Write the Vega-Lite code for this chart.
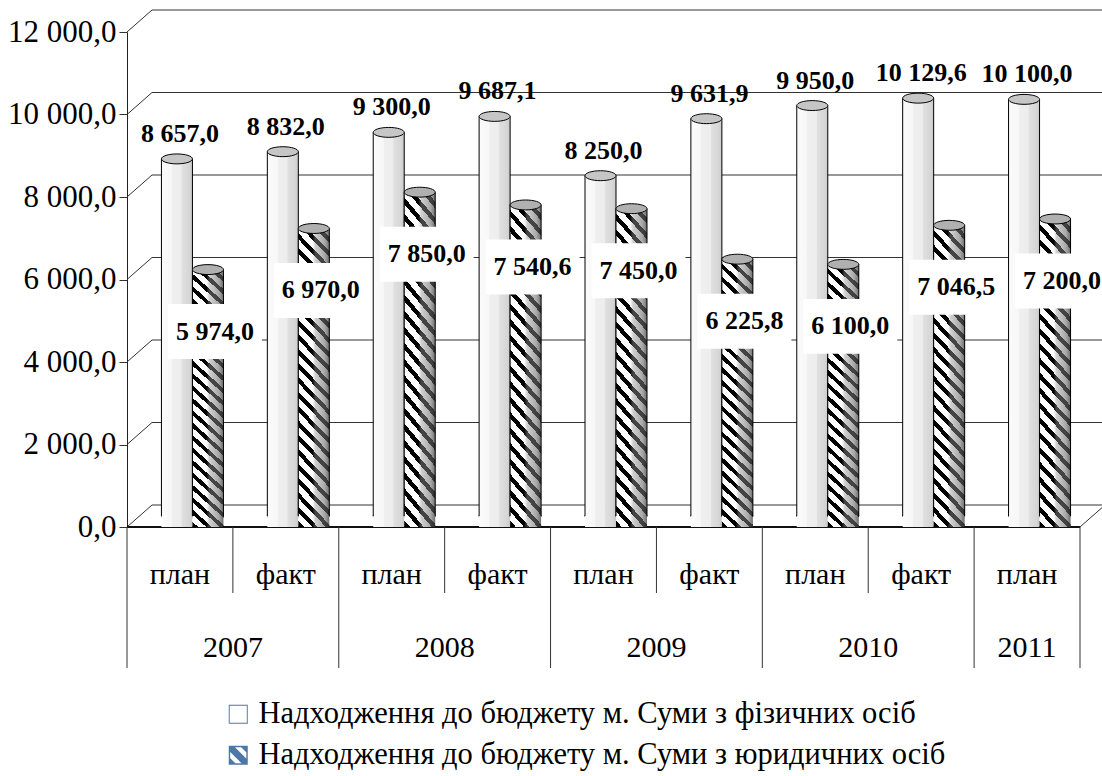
{
  "$schema": "https://vega.github.io/schema/vega-lite/v6.json",
  "width": 953,
  "height": 495,
  "autosize": {"type": "none"},
  "padding": {"left": 127, "top": 32, "right": 22, "bottom": 249},
  "background": "#ffffff",
  "config": {
    "font": "serif",
    "view": {"stroke": null},
    "locale": {"number": {"decimal": ",", "thousands": " ", "grouping": [3], "currency": ["", ""]}},
    "axisY": {"grid": false, "format": ",.1f", "tickCount": 7, "domainColor": "#222222", "domainWidth": 1, "tickColor": "#333333", "tickSize": 8,
              "labelFont": "serif", "labelFontSize": 31, "labelColor": "#000000", "labelPadding": 3, "title": null}
  },
  "datasets": {
    "ticks": [{"v": 0}, {"v": 2000}, {"v": 4000}, {"v": 6000}, {"v": 8000}, {"v": 10000}, {"v": 12000}]
  },
  "data": {
    "values": [
      {"cat": "2007 план", "year": "2007", "kind": "план", "s": "fiz", "series": "Надходження до бюджету м. Суми з фізичних осіб", "value": 8657.0},
      {"cat": "2007 факт", "year": "2007", "kind": "факт", "s": "fiz", "series": "Надходження до бюджету м. Суми з фізичних осіб", "value": 8832.0},
      {"cat": "2008 план", "year": "2008", "kind": "план", "s": "fiz", "series": "Надходження до бюджету м. Суми з фізичних осіб", "value": 9300.0},
      {"cat": "2008 факт", "year": "2008", "kind": "факт", "s": "fiz", "series": "Надходження до бюджету м. Суми з фізичних осіб", "value": 9687.1},
      {"cat": "2009 план", "year": "2009", "kind": "план", "s": "fiz", "series": "Надходження до бюджету м. Суми з фізичних осіб", "value": 8250.0},
      {"cat": "2009 факт", "year": "2009", "kind": "факт", "s": "fiz", "series": "Надходження до бюджету м. Суми з фізичних осіб", "value": 9631.9},
      {"cat": "2010 план", "year": "2010", "kind": "план", "s": "fiz", "series": "Надходження до бюджету м. Суми з фізичних осіб", "value": 9950.0},
      {"cat": "2010 факт", "year": "2010", "kind": "факт", "s": "fiz", "series": "Надходження до бюджету м. Суми з фізичних осіб", "value": 10129.6},
      {"cat": "2011 план", "year": "2011", "kind": "план", "s": "fiz", "series": "Надходження до бюджету м. Суми з фізичних осіб", "value": 10100.0},
      {"cat": "2007 план", "year": "2007", "kind": "план", "s": "yur", "series": "Надходження до бюджету м. Суми з юридичних осіб", "value": 5974.0},
      {"cat": "2007 факт", "year": "2007", "kind": "факт", "s": "yur", "series": "Надходження до бюджету м. Суми з юридичних осіб", "value": 6970.0},
      {"cat": "2008 план", "year": "2008", "kind": "план", "s": "yur", "series": "Надходження до бюджету м. Суми з юридичних осіб", "value": 7850.0},
      {"cat": "2008 факт", "year": "2008", "kind": "факт", "s": "yur", "series": "Надходження до бюджету м. Суми з юридичних осіб", "value": 7540.6},
      {"cat": "2009 план", "year": "2009", "kind": "план", "s": "yur", "series": "Надходження до бюджету м. Суми з юридичних осіб", "value": 7450.0},
      {"cat": "2009 факт", "year": "2009", "kind": "факт", "s": "yur", "series": "Надходження до бюджету м. Суми з юридичних осіб", "value": 6225.8},
      {"cat": "2010 план", "year": "2010", "kind": "план", "s": "yur", "series": "Надходження до бюджету м. Суми з юридичних осіб", "value": 6100.0},
      {"cat": "2010 факт", "year": "2010", "kind": "факт", "s": "yur", "series": "Надходження до бюджету м. Суми з юридичних осіб", "value": 7046.5},
      {"cat": "2011 план", "year": "2011", "kind": "план", "s": "yur", "series": "Надходження до бюджету м. Суми з юридичних осіб", "value": 7200.0}
    ]
  },
  "layer": [
    {
      "data": {"name": "ticks"},
      "mark": {"type": "rule", "color": "#333333", "strokeWidth": 1, "xOffset": 25, "x2Offset": 25, "yOffset": -22, "y2Offset": -22},
      "encoding": {
        "x": {"datum": "2007 план", "type": "nominal", "bandPosition": 0, "axis": null,
              "scale": {"domain": ["2007 план", "2007 факт", "2008 план", "2008 факт", "2009 план", "2009 факт", "2010 план", "2010 факт", "2011 план"], "paddingInner": 0, "paddingOuter": 0}},
        "x2": {"datum": "2011 план", "bandPosition": 1},
        "y": {"field": "v", "type": "quantitative", "title": null, "scale": {"domain": [0, 12000], "nice": false, "zero": true}},
        "y2": {"field": "v"}
      }
    },
    {
      "data": {"name": "ticks"},
      "mark": {"type": "rule", "color": "#333333", "strokeWidth": 1, "x2Offset": 25, "y2Offset": -22},
      "encoding": {
        "x": {"datum": "2007 план", "type": "nominal", "bandPosition": 0, "axis": null},
        "x2": {"datum": "2007 план", "bandPosition": 0},
        "y": {"field": "v", "type": "quantitative", "title": null},
        "y2": {"field": "v"}
      }
    },
    {
      "mark": {"type": "rule", "color": "#111111", "strokeWidth": 1},
      "encoding": {"y": {"datum": 0, "type": "quantitative", "title": null}}
    },
    {
      "transform": [{"filter": "datum.s == 'fiz' && datum.kind == 'факт'"}],
      "mark": {"type": "rule", "color": "#333333", "strokeWidth": 1, "y2Offset": 66},
      "encoding": {
        "x": {"field": "cat", "type": "nominal", "bandPosition": 0, "axis": null},
        "y": {"datum": 0, "type": "quantitative", "title": null},
        "y2": {"datum": 0}
      }
    },
    {
      "transform": [{"filter": "datum.s == 'fiz' && datum.kind == 'план'"}],
      "mark": {"type": "rule", "color": "#333333", "strokeWidth": 1, "y2Offset": 141},
      "encoding": {
        "x": {"field": "cat", "type": "nominal", "bandPosition": 0, "axis": null},
        "y": {"datum": 0, "type": "quantitative", "title": null},
        "y2": {"datum": 0}
      }
    },
    {
      "transform": [{"filter": "datum.s == 'fiz' && datum.cat == '2011 план'"}],
      "mark": {"type": "rule", "color": "#333333", "strokeWidth": 1, "y2Offset": 141},
      "encoding": {
        "x": {"field": "cat", "type": "nominal", "bandPosition": 1, "axis": null},
        "y": {"datum": 0, "type": "quantitative", "title": null},
        "y2": {"datum": 0}
      }
    },
    {
      "transform": [{"filter": "datum.s == 'fiz' && datum.cat == '2011 план'"}],
      "mark": {"type": "rule", "color": "#333333", "strokeWidth": 1, "x2Offset": 25, "y2Offset": -22},
      "encoding": {
        "x": {"field": "cat", "type": "nominal", "bandPosition": 1, "axis": null},
        "x2": {"field": "cat", "bandPosition": 1},
        "y": {"datum": 0, "type": "quantitative", "title": null},
        "y2": {"datum": 0}
      }
    },
    {
      "transform": [{"filter": "datum.s == 'fiz'"}],
      "mark": {"type": "text", "fontSize": 30, "font": "serif", "color": "#000000", "baseline": "middle", "yOffset": 48},
      "encoding": {
        "x": {"field": "cat", "type": "nominal", "axis": null},
        "y": {"datum": 0, "type": "quantitative", "title": null},
        "text": {"field": "kind"}
      }
    },
    {
      "transform": [{"filter": "datum.s == 'fiz' && datum.kind == 'факт'"}],
      "mark": {"type": "text", "fontSize": 30, "font": "serif", "color": "#000000", "baseline": "middle", "yOffset": 121},
      "encoding": {
        "x": {"field": "cat", "type": "nominal", "bandPosition": 0, "axis": null},
        "y": {"datum": 0, "type": "quantitative", "title": null},
        "text": {"field": "year"}
      }
    },
    {
      "transform": [{"filter": "datum.s == 'fiz' && datum.year == '2011'"}],
      "mark": {"type": "text", "fontSize": 30, "font": "serif", "color": "#000000", "baseline": "middle", "yOffset": 121},
      "encoding": {
        "x": {"field": "cat", "type": "nominal", "axis": null},
        "y": {"datum": 0, "type": "quantitative", "title": null},
        "text": {"field": "year"}
      }
    },
    {
      "transform": [{"filter": "datum.s == 'fiz'"}],
      "mark": {"type": "point", "shape": "M -1 0 A 1 0.32 0 1 0 1 0 A 1 0.32 0 1 0 -1 0 Z", "size": 961, "filled": true, "fill": "#e4e4e4", "stroke": "#000000", "strokeWidth": 1, "opacity": 1, "xOffset": -3, "yOffset": -11},
      "encoding": {
        "x": {"field": "cat", "type": "nominal", "axis": null},
        "y": {"datum": 0, "type": "quantitative", "title": null}
      }
    },
    {
      "transform": [{"filter": "datum.s == 'fiz'"}],
      "mark": {"type": "bar", "width": 31, "xOffset": -3, "yOffset": -11, "y2Offset": -11,
               "fill": {"gradient": "linear", "x1": 0, "y1": 0, "x2": 1, "y2": 0,
                        "stops": [{"offset": 0, "color": "#fbfbfb"}, {"offset": 0.33, "color": "#f7f7f7"}, {"offset": 0.34, "color": "#efefef"}, {"offset": 0.64, "color": "#ededed"}, {"offset": 0.66, "color": "#e0e0e0"}, {"offset": 0.9, "color": "#d6d6d6"}, {"offset": 1, "color": "#c8c8c8"}]}},
      "encoding": {
        "x": {"field": "cat", "type": "nominal", "axis": null},
        "y": {"field": "value", "type": "quantitative", "title": null, "stack": null}
      }
    },
    {
      "transform": [{"filter": "datum.s == 'fiz'"}],
      "mark": {"type": "rule", "color": "#000000", "strokeWidth": 1, "xOffset": -18.5, "yOffset": -11, "y2Offset": -11},
      "encoding": {
        "x": {"field": "cat", "type": "nominal", "axis": null},
        "y": {"field": "value", "type": "quantitative", "title": null},
        "y2": {"datum": 0}
      }
    },
    {
      "transform": [{"filter": "datum.s == 'fiz'"}],
      "mark": {"type": "rule", "color": "#000000", "strokeWidth": 1, "xOffset": 12.5, "yOffset": -11, "y2Offset": -11},
      "encoding": {
        "x": {"field": "cat", "type": "nominal", "axis": null},
        "y": {"field": "value", "type": "quantitative", "title": null},
        "y2": {"datum": 0}
      }
    },
    {
      "transform": [{"filter": "datum.s == 'fiz'"}],
      "mark": {"type": "point", "shape": "M -1 0 A 1 0.32 0 1 0 1 0 A 1 0.32 0 1 0 -1 0 Z", "size": 961, "filled": true, "fill": "#c6c6c6", "stroke": "#000000", "strokeWidth": 1, "opacity": 1, "xOffset": -3, "yOffset": -11},
      "encoding": {
        "x": {"field": "cat", "type": "nominal", "axis": null},
        "y": {"field": "value", "type": "quantitative", "title": null}
      }
    },
    {
      "transform": [{"filter": "datum.s == 'yur'"}],
      "mark": {"type": "point", "shape": "M -1 0 A 1 0.32 0 1 0 1 0 A 1 0.32 0 1 0 -1 0 Z", "size": 961, "filled": true, "fill": "#6a6a6a", "stroke": "#000000", "strokeWidth": 1, "opacity": 1, "xOffset": 28, "yOffset": -11},
      "encoding": {
        "x": {"field": "cat", "type": "nominal", "axis": null},
        "y": {"datum": 0, "type": "quantitative", "title": null}
      }
    },
    {
      "transform": [{"filter": "datum.s == 'yur'"}],
      "mark": {"type": "bar", "width": 31, "xOffset": 28, "yOffset": -11, "y2Offset": -11,
               "fill": {"gradient": "linear", "x1": 0, "y1": 1, "x2": 0.1191, "y2": -0.0957,
                        "stops": [{"offset":0,"color":"#000"},{"offset":0.0183,"color":"#000"},{"offset":0.0183,"color":"#fff"},{"offset":0.0435,"color":"#fff"},
{"offset":0.0435,"color":"#000"},{"offset":0.0618,"color":"#000"},{"offset":0.0618,"color":"#fff"},{"offset":0.087,"color":"#fff"},
{"offset":0.087,"color":"#000"},{"offset":0.1053,"color":"#000"},{"offset":0.1053,"color":"#fff"},{"offset":0.1304,"color":"#fff"},
{"offset":0.1304,"color":"#000"},{"offset":0.1487,"color":"#000"},{"offset":0.1487,"color":"#fff"},{"offset":0.1739,"color":"#fff"},
{"offset":0.1739,"color":"#000"},{"offset":0.1922,"color":"#000"},{"offset":0.1922,"color":"#fff"},{"offset":0.2174,"color":"#fff"},
{"offset":0.2174,"color":"#000"},{"offset":0.2357,"color":"#000"},{"offset":0.2357,"color":"#fff"},{"offset":0.2609,"color":"#fff"},
{"offset":0.2609,"color":"#000"},{"offset":0.2792,"color":"#000"},{"offset":0.2792,"color":"#fff"},{"offset":0.3043,"color":"#fff"},
{"offset":0.3043,"color":"#000"},{"offset":0.3226,"color":"#000"},{"offset":0.3226,"color":"#fff"},{"offset":0.3478,"color":"#fff"},
{"offset":0.3478,"color":"#000"},{"offset":0.3661,"color":"#000"},{"offset":0.3661,"color":"#fff"},{"offset":0.3913,"color":"#fff"},
{"offset":0.3913,"color":"#000"},{"offset":0.4096,"color":"#000"},{"offset":0.4096,"color":"#fff"},{"offset":0.4348,"color":"#fff"},
{"offset":0.4348,"color":"#000"},{"offset":0.4531,"color":"#000"},{"offset":0.4531,"color":"#fff"},{"offset":0.4783,"color":"#fff"},
{"offset":0.4783,"color":"#000"},{"offset":0.4966,"color":"#000"},{"offset":0.4966,"color":"#fff"},{"offset":0.5217,"color":"#fff"},
{"offset":0.5217,"color":"#000"},{"offset":0.54,"color":"#000"},{"offset":0.54,"color":"#fff"},{"offset":0.5652,"color":"#fff"},
{"offset":0.5652,"color":"#000"},{"offset":0.5835,"color":"#000"},{"offset":0.5835,"color":"#fff"},{"offset":0.6087,"color":"#fff"},
{"offset":0.6087,"color":"#000"},{"offset":0.627,"color":"#000"},{"offset":0.627,"color":"#fff"},{"offset":0.6522,"color":"#fff"},
{"offset":0.6522,"color":"#000"},{"offset":0.6705,"color":"#000"},{"offset":0.6705,"color":"#fff"},{"offset":0.6957,"color":"#fff"},
{"offset":0.6957,"color":"#000"},{"offset":0.714,"color":"#000"},{"offset":0.714,"color":"#fff"},{"offset":0.7391,"color":"#fff"},
{"offset":0.7391,"color":"#000"},{"offset":0.7574,"color":"#000"},{"offset":0.7574,"color":"#fff"},{"offset":0.7826,"color":"#fff"},
{"offset":0.7826,"color":"#000"},{"offset":0.8009,"color":"#000"},{"offset":0.8009,"color":"#fff"},{"offset":0.8261,"color":"#fff"},
{"offset":0.8261,"color":"#000"},{"offset":0.8444,"color":"#000"},{"offset":0.8444,"color":"#fff"},{"offset":0.8696,"color":"#fff"},
{"offset":0.8696,"color":"#000"},{"offset":0.8879,"color":"#000"},{"offset":0.8879,"color":"#fff"},{"offset":0.913,"color":"#fff"},
{"offset":0.913,"color":"#000"},{"offset":0.9313,"color":"#000"},{"offset":0.9313,"color":"#fff"},{"offset":0.9565,"color":"#fff"},
{"offset":0.9565,"color":"#000"},{"offset":0.9748,"color":"#000"},{"offset":0.9748,"color":"#fff"},{"offset":1,"color":"#fff"}]}},
      "encoding": {
        "x": {"field": "cat", "type": "nominal", "axis": null},
        "y": {"field": "value", "type": "quantitative", "title": null, "stack": null}
      }
    },
    {
      "transform": [{"filter": "datum.s == 'yur'"}],
      "mark": {"type": "bar", "width": 31, "xOffset": 28, "yOffset": -11, "y2Offset": -11,
               "fill": {"gradient": "linear", "x1": 0, "y1": 0, "x2": 1, "y2": 0,
                        "stops": [{"offset": 0, "color": "rgba(200,200,200,0)"}, {"offset": 0.45, "color": "rgba(170,170,170,0)"}, {"offset": 0.55, "color": "rgba(150,150,150,0.45)"}, {"offset": 0.85, "color": "rgba(110,110,110,0.6)"}, {"offset": 1, "color": "rgba(60,60,60,0.75)"}]}},
      "encoding": {
        "x": {"field": "cat", "type": "nominal", "axis": null},
        "y": {"field": "value", "type": "quantitative", "title": null, "stack": null}
      }
    },
    {
      "transform": [{"filter": "datum.s == 'yur'"}],
      "mark": {"type": "rule", "color": "#000000", "strokeWidth": 1, "xOffset": 12.5, "yOffset": -11, "y2Offset": -11},
      "encoding": {
        "x": {"field": "cat", "type": "nominal", "axis": null},
        "y": {"field": "value", "type": "quantitative", "title": null},
        "y2": {"datum": 0}
      }
    },
    {
      "transform": [{"filter": "datum.s == 'yur'"}],
      "mark": {"type": "rule", "color": "#000000", "strokeWidth": 1, "xOffset": 43.5, "yOffset": -11, "y2Offset": -11},
      "encoding": {
        "x": {"field": "cat", "type": "nominal", "axis": null},
        "y": {"field": "value", "type": "quantitative", "title": null},
        "y2": {"datum": 0}
      }
    },
    {
      "transform": [{"filter": "datum.s == 'yur'"}],
      "mark": {"type": "point", "shape": "M -1 0 A 1 0.32 0 1 0 1 0 A 1 0.32 0 1 0 -1 0 Z", "size": 961, "filled": true, "fill": "#b0b0b0", "stroke": "#000000", "strokeWidth": 1, "opacity": 1, "xOffset": 28, "yOffset": -11},
      "encoding": {
        "x": {"field": "cat", "type": "nominal", "axis": null},
        "y": {"field": "value", "type": "quantitative", "title": null}
      }
    },
    {
      "transform": [{"filter": "datum.s == 'fiz'"}],
      "mark": {"type": "text", "fontSize": 26, "fontWeight": "bold", "font": "serif", "color": "#000000", "baseline": "alphabetic", "yOffset": -28},
      "encoding": {
        "x": {"field": "cat", "type": "nominal", "axis": null},
        "y": {"field": "value", "type": "quantitative", "title": null},
        "text": {"field": "value", "type": "quantitative", "format": ",.1f"}
      }
    },
    {
      "transform": [{"filter": "datum.s == 'yur'"}],
      "mark": {"type": "point", "shape": "M -1 -0.585 L 1 -0.585 L 1 0.585 L -1 0.585 Z", "size": 8836, "filled": true, "fill": "#ffffff", "strokeWidth": 0, "opacity": 1, "xOffset": 35, "yOffset": 51},
      "encoding": {
        "x": {"field": "cat", "type": "nominal", "axis": null},
        "y": {"field": "value", "type": "quantitative", "title": null}
      }
    },
    {
      "transform": [{"filter": "datum.s == 'yur'"}],
      "mark": {"type": "text", "fontSize": 26, "fontWeight": "bold", "font": "serif", "color": "#000000", "baseline": "middle", "xOffset": 35, "yOffset": 51},
      "encoding": {
        "x": {"field": "cat", "type": "nominal", "axis": null},
        "y": {"field": "value", "type": "quantitative", "title": null},
        "text": {"field": "value", "type": "quantitative", "format": ",.1f"}
      }
    },
    {
      "mark": {"type": "point", "filled": true, "opacity": 0},
      "encoding": {
        "x": {"field": "cat", "type": "nominal", "axis": null},
        "y": {"field": "value", "type": "quantitative", "title": null},
        "shape": {
          "field": "series", "type": "nominal",
          "scale": {"range": [
            "M -1 -1 L 1 -1 L 1 1 L -1 1 Z M -0.9 -0.9 L -0.9 0.9 L 0.9 0.9 L 0.9 -0.9 Z",
            "M -1 -1 L 1 -1 L 1 1 L -1 1 Z M -0.85 -0.85 L -0.85 0.85 L 0.85 0.85 L 0.85 -0.85 Z M -1 -1 L -0.5 -1 L 1 0.5 L 1 1 L 0.5 1 L -1 -0.5 Z M 0.15 -1 L 1 -1 L 1 -0.15 Z M -1 0.15 L -0.15 1 L -1 1 Z"
          ]},
          "legend": {
            "title": null, "orient": "none", "legendX": 96, "legendY": 667, "direction": "vertical",
            "symbolSize": 361, "symbolFillColor": "#000000", "symbolStrokeWidth": 0, "symbolOpacity": 1,
            "labelFont": "serif", "labelFontSize": 30.5, "labelColor": "#000000", "labelLimit": 900, "labelOffset": 5,
            "rowPadding": 10, "padding": 0, "offset": 0
          }
        }
      }
    }
  ]
}
